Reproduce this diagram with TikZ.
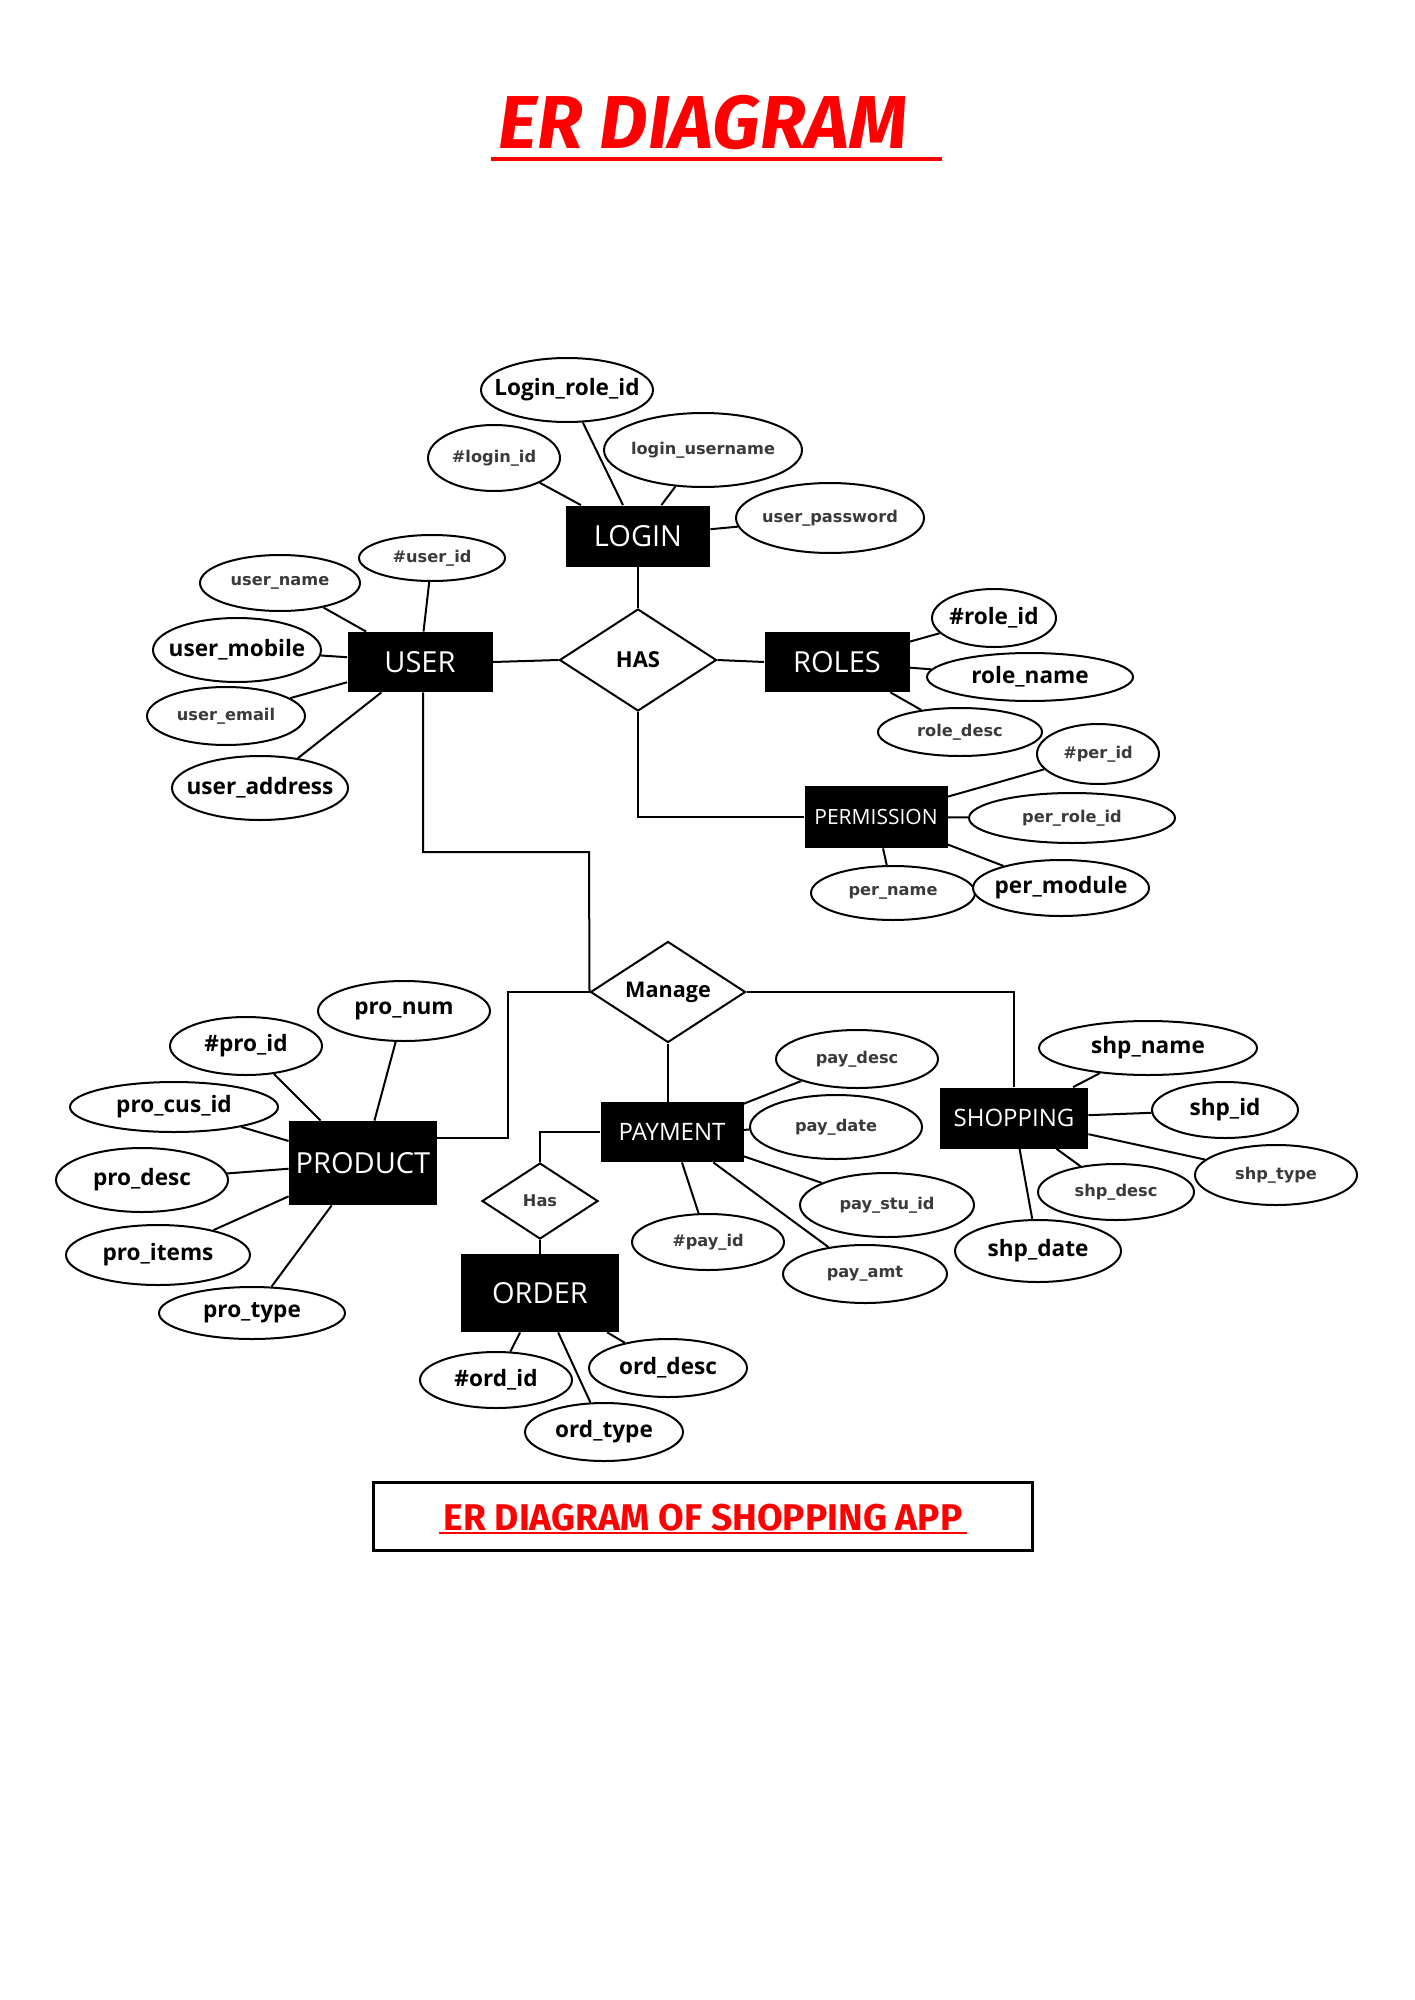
\documentclass[tikz,border=0pt]{standalone}
\usepackage{fontspec}
\setmainfont{Open Sans}
\newfontfamily\grayfont{DejaVu Sans}
\newfontfamily\firafont{Fira Sans}
\usetikzlibrary{shapes.geometric}
\definecolor{ttred}{HTML}{FF0000}
\definecolor{gtext}{HTML}{3A3A3A}
\newcommand{\zt}[1]{\makebox[0pt]{#1}}
\begin{document}
\begin{tikzpicture}[x=0.5pt,y=-0.5pt,
  conn/.style={line width=1pt},
  ent/.style={rectangle, fill=black, text=white, inner sep=0pt, font=\fontsize{14.5}{17}\selectfont},
  entS/.style={ent, font=\fontsize{12}{14}\selectfont},
  attrB/.style={ellipse, draw, line width=1pt, fill=white, inner sep=0pt, font=\bfseries\fontsize{11.3}{13}\selectfont},
  attrG/.style={ellipse, draw, line width=1pt, fill=white, inner sep=0pt, text=gtext, font=\grayfont\bfseries\fontsize{8.1}{10}\selectfont},
  rel/.style={diamond, draw, line width=1pt, fill=white, inner sep=0pt}
]
\useasboundingbox[fill=white] (0,0) rectangle (1414,2000);

% ---------- titles ----------
\node[anchor=base, text=ttred, font=\firafont\bfseries\itshape\fontsize{37.5}{42}\selectfont, inner sep=0pt] (title) at (703,149) {ER DIAGRAM};
\coordinate (tl1) at (491,159);
\coordinate (tl2) at (942,159);
\draw[ttred, line width=2pt] (tl1) -- (tl2);

\node[draw, line width=1.5pt, minimum width=329.5pt, minimum height=34pt, inner sep=0pt] (capbox) at (702.5,1516) {};
\node[anchor=base, text=ttred, font=\firafont\bfseries\fontsize{18.6}{21}\selectfont, inner sep=0pt] (caption) at (703,1530) {ER DIAGRAM OF SHOPPING APP};
\coordinate (cl1) at (439,1533);
\coordinate (cl2) at (967,1533);
\draw[ttred, line width=1.3pt] (cl1) -- (cl2);

% ---------- entities ----------
\node[ent, minimum width=72pt, minimum height=30.5pt] (LOGIN) at (638,536) {LOGIN};
\node[ent, minimum width=72.5pt, minimum height=30pt] (USER) at (420,662) {USER};
\node[ent, minimum width=72.5pt, minimum height=30pt] (ROLES) at (837,662) {ROLES};
\node[ent, minimum width=71.5pt, minimum height=31pt, font=\fontsize{10.5}{12}\selectfont] (PERM) at (876,817) {PERMISSION};
\node[ent, minimum width=74pt, minimum height=42pt] (PRODUCT) at (363,1163) {PRODUCT};
\node[entS, minimum width=71.5pt, minimum height=30pt] (PAYMENT) at (672,1132) {PAYMENT};
\node[entS, minimum width=74pt, minimum height=30.5pt] (SHOPPING) at (1014,1118) {SHOPPING};
\node[ent, minimum width=79pt, minimum height=39pt] (ORDER) at (540,1293) {ORDER};

% ---------- relationships ----------
\node[rel, minimum width=78.5pt, minimum height=51pt, font=\bfseries\fontsize{11}{13}\selectfont] (HAS) at (638,660) {\zt{HAS}};
\node[rel, minimum width=77.5pt, minimum height=50.5pt, font=\bfseries\fontsize{10.8}{13}\selectfont] (Manage) at (668,992) {\zt{Manage}};
\node[rel, minimum width=58pt, minimum height=38pt, text=gtext, font=\grayfont\bfseries\fontsize{8.1}{10}\selectfont] (Has) at (540,1201) {\zt{Has}};

% ---------- LOGIN attributes ----------
\node[attrB, minimum width=86pt, minimum height=32pt] (lrid) at (567,390) {\zt{Login\_role\_id}};
\node[attrG, minimum width=66pt, minimum height=33pt] (lid) at (494,458) {\zt{\#login\_id}};
\node[attrG, minimum width=99pt, minimum height=37pt] (luser) at (703,450) {\zt{login\_username}};
\node[attrG, minimum width=94pt, minimum height=35pt] (upass) at (830,518) {\zt{user\_password}};

% ---------- USER attributes ----------
\node[attrG, minimum width=73pt, minimum height=23pt] (uid) at (432,558) {\zt{\#user\_id}};
\node[attrG, minimum width=80pt, minimum height=28pt] (uname) at (280,583) {\zt{user\_name}};
\node[attrB, minimum width=84pt, minimum height=32pt] (umob) at (237,650) {\zt{user\_mobile}};
\node[attrG, minimum width=79pt, minimum height=29pt] (umail) at (226,716) {\zt{user\_email}};
\node[attrB, minimum width=88pt, minimum height=32pt] (uaddr) at (260,788) {\zt{user\_address}};

% ---------- ROLES attributes ----------
\node[attrB, minimum width=62pt, minimum height=29pt] (rid) at (994,618) {\zt{\#role\_id}};
\node[attrB, minimum width=103pt, minimum height=24pt] (rname) at (1030,677) {\zt{role\_name}};
\node[attrG, minimum width=82pt, minimum height=24pt] (rdesc) at (960,732) {\zt{role\_desc}};

% ---------- PERMISSION attributes ----------
\node[attrG, minimum width=61pt, minimum height=30pt] (pid) at (1098,754) {\zt{\#per\_id}};
\node[attrG, minimum width=103pt, minimum height=25pt] (prid) at (1072,818) {\zt{per\_role\_id}};
\node[attrG, minimum width=82pt, minimum height=27pt] (pname) at (893,893) {\zt{per\_name}};
\node[attrB, minimum width=88pt, minimum height=28pt] (pmod) at (1061,888) {\zt{per\_module}};

% ---------- PRODUCT attributes ----------
\node[attrB, minimum width=86pt, minimum height=30pt] (pnum) at (404,1011) {\zt{pro\_num}};
\node[attrB, minimum width=76pt, minimum height=29pt] (proid) at (246,1046) {\zt{\#pro\_id}};
\node[attrB, minimum width=104pt, minimum height=25pt] (pcus) at (174,1107) {\zt{pro\_cus\_id}};
\node[attrB, minimum width=86pt, minimum height=32pt] (pdesc) at (142,1180) {\zt{pro\_desc}};
\node[attrB, minimum width=92pt, minimum height=30pt] (pitems) at (158,1255) {\zt{pro\_items}};
\node[attrB, minimum width=93pt, minimum height=26pt] (ptype) at (252,1313) {\zt{pro\_type}};

% ---------- PAYMENT attributes ----------
\node[attrG, minimum width=81pt, minimum height=29pt] (paydesc) at (857,1059) {\zt{pay\_desc}};
\node[attrG, minimum width=86pt, minimum height=32pt] (paydate) at (836,1127) {\zt{pay\_date}};
\node[attrG, minimum width=87pt, minimum height=32pt] (paystu) at (887,1205) {\zt{pay\_stu\_id}};
\node[attrG, minimum width=76pt, minimum height=28pt] (payid) at (708,1242) {\zt{\#pay\_id}};
\node[attrG, minimum width=82pt, minimum height=29pt] (payamt) at (865,1274) {\zt{pay\_amt}};

% ---------- SHOPPING attributes ----------
\node[attrB, minimum width=109pt, minimum height=27pt] (sname) at (1148,1048) {\zt{shp\_name}};
\node[attrB, minimum width=73pt, minimum height=28pt] (sid) at (1225,1110) {\zt{shp\_id}};
\node[attrG, minimum width=81pt, minimum height=30pt] (stype) at (1276,1175) {\zt{shp\_type}};
\node[attrG, minimum width=78pt, minimum height=28pt] (sdesc) at (1116,1192) {\zt{shp\_desc}};
\node[attrB, minimum width=83pt, minimum height=31pt] (sdate) at (1038,1251) {\zt{shp\_date}};

% ---------- ORDER attributes ----------
\node[attrB, minimum width=76pt, minimum height=28pt] (oid) at (496,1380) {\zt{\#ord\_id}};
\node[attrB, minimum width=79pt, minimum height=29pt] (odesc) at (668,1368) {\zt{ord\_desc}};
\node[attrB, minimum width=79pt, minimum height=29pt] (otype) at (604,1432) {\zt{ord\_type}};

% ---------- attribute connectors ----------
\foreach \a/\b in {lrid/LOGIN, lid/LOGIN, luser/LOGIN, upass/LOGIN,
  uid/USER, uname/USER, umob/USER, umail/USER, uaddr/USER,
  rid/ROLES, rname/ROLES, rdesc/ROLES,
  pid/PERM, prid/PERM, pname/PERM, pmod/PERM,
  pnum/PRODUCT, proid/PRODUCT, pcus/PRODUCT, pdesc/PRODUCT, pitems/PRODUCT, ptype/PRODUCT,
  paydesc/PAYMENT, paydate/PAYMENT, paystu/PAYMENT, payid/PAYMENT, payamt/PAYMENT,
  sname/SHOPPING, sid/SHOPPING, stype/SHOPPING, sdesc/SHOPPING, sdate/SHOPPING,
  oid/ORDER, odesc/ORDER, otype/ORDER}
  \draw[conn] (\a) -- (\b);

% ---------- relationship connectors ----------
\draw[conn] (LOGIN.south) -- (HAS.north);
\draw[conn] (USER.east) -- (HAS.west);
\draw[conn] (HAS.east) -- (ROLES.west);
\draw[conn] (HAS.south) |- (PERM.west);
\coordinate (um) at (589,852);
\coordinate (ux) at (423,0);
\draw[conn] (USER.south -| ux) |- (um) -- (Manage.west);
\coordinate (pm) at (508,1138);
\draw[conn] (PRODUCT.east |- pm) -- (pm) |- (Manage.west);
\draw[conn] (Manage.east) -| (SHOPPING.north);
\draw[conn] (Manage.south) -- (Manage.south |- PAYMENT.north);
\draw[conn] (PAYMENT.west) -| (Has.north);
\draw[conn] (Has.south) -- (ORDER.north);
\end{tikzpicture}
\end{document}
